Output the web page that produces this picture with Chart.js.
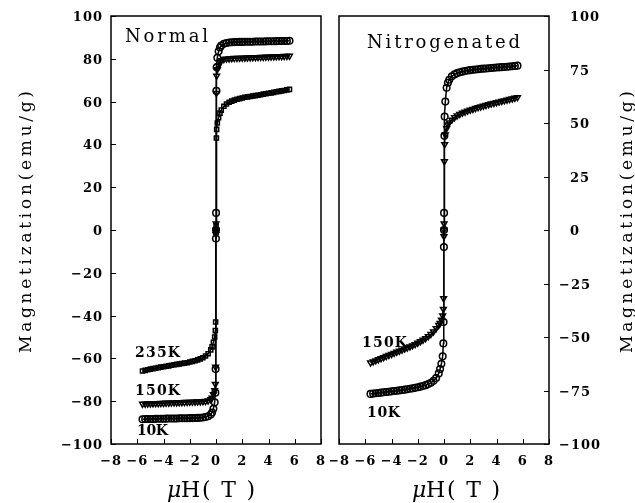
<!DOCTYPE html>
<html>
<head>
<meta charset="utf-8">
<script src="https://cdn.jsdelivr.net/npm/chart.js@4"></script>
<style>
  html, body { margin: 0; padding: 0; background: #fff; }
  #wrap { position: relative; width: 635px; height: 503px; }
  #leftPanel { position: absolute; left: 0; top: 0; }
  #rightPanel { position: absolute; left: 330px; top: 0; }
</style>
</head>
<body>
<div id="wrap">
  <canvas id="leftPanel" width="330" height="503"></canvas>
  <canvas id="rightPanel" width="305" height="503"></canvas>
</div>
<script>
// field sweep (T), same for every curve
const fieldT = [-5.6,-5.4,-5.2,-5.0,-4.8,-4.6,-4.4,-4.2,-4.0,-3.8,-3.6,-3.4,-3.2,-3.0,-2.8,-2.6,-2.4,-2.2,-2.0,-1.8,-1.6,-1.4,-1.2,-1.0,-0.8,-0.6,-0.4,-0.3,-0.2,-0.1,-0.05,-0.03,-0.005,
  0,
  0.005,0.03,0.05,0.1,0.2,0.3,0.4,0.6,0.8,1.0,1.2,1.4,1.6,1.8,2.0,2.2,2.4,2.6,2.8,3.0,3.2,3.4,3.6,3.8,4.0,4.2,4.4,4.6,4.8,5.0,5.2,5.4,5.6];

// Normal sample, emu/g
const normal10K = [-88.4,-88.35,-88.3,-88.3,-88.3,-88.25,-88.2,-88.2,-88.2,-88.15,-88.1,-88.1,-88.1,-88.05,-88.0,-88.0,-88.0,-87.95,-87.9,-87.9,-87.85,-87.8,-87.7,-87.6,-87.4,-87.0,-86.2,-85.3,-83.5,-80.5,-76,-65,-4,
  0,
  8,65,76,80.5,83.5,85.3,86.2,87.0,87.4,87.6,87.7,87.8,87.85,87.9,87.9,87.95,88.0,88.0,88.0,88.05,88.1,88.1,88.1,88.15,88.2,88.2,88.2,88.25,88.3,88.3,88.3,88.35,88.4];
const normal150K = [-81.3,-81.25,-81.2,-81.15,-81.1,-81.05,-81.0,-80.95,-80.9,-80.85,-80.8,-80.75,-80.7,-80.65,-80.6,-80.55,-80.5,-80.45,-80.4,-80.35,-80.3,-80.25,-80.2,-80.1,-80.0,-79.8,-79.2,-78.4,-76.8,-75,-72,-64,-2,
  0,
  3,64,72,75,76.8,78.4,79.2,79.8,80.0,80.1,80.2,80.25,80.3,80.35,80.4,80.45,80.5,80.55,80.6,80.65,80.7,80.75,80.8,80.85,80.9,80.95,81.0,81.05,81.1,81.15,81.2,81.25,81.3];
const normal235K = [-65.9,-65.6,-65.3,-65.0,-64.8,-64.6,-64.3,-64.1,-63.9,-63.7,-63.5,-63.2,-63.0,-62.8,-62.6,-62.4,-62.2,-62.0,-61.7,-61.4,-61.1,-60.7,-60.2,-59.7,-58.9,-57.8,-56.0,-54.6,-52.5,-50,-47,-43,-1,
  0,
  2,43,47,50,52.5,54.6,56.0,57.8,58.9,59.7,60.2,60.7,61.1,61.4,61.7,62.0,62.2,62.4,62.6,62.8,63.0,63.2,63.5,63.7,63.9,64.1,64.3,64.6,64.8,65.0,65.2,65.5,65.7];

// Nitrogenated sample, emu/g
const nitro10K = [-76.6,-76.45,-76.3,-76.15,-76.0,-75.85,-75.7,-75.55,-75.4,-75.25,-75.1,-74.95,-74.8,-74.6,-74.4,-74.2,-74.0,-73.75,-73.5,-73.2,-72.9,-72.5,-72.0,-71.4,-70.5,-69.2,-67.0,-65.0,-62.5,-59,-53,-43,-8,
  0,
  8,44,53,60,66.5,68.8,70.2,71.8,72.7,73.3,73.7,74.0,74.3,74.5,74.7,74.85,75.0,75.15,75.3,75.4,75.5,75.6,75.7,75.8,75.9,76.0,76.1,76.2,76.3,76.4,76.5,76.65,76.8];
const nitro150K = [-62.0,-61.5,-61.0,-60.5,-60.0,-59.5,-59.0,-58.5,-58.0,-57.5,-57.0,-56.5,-56.0,-55.5,-55.0,-54.5,-54.0,-53.4,-52.8,-52.1,-51.4,-50.6,-49.7,-48.7,-47.5,-46.0,-44.5,-43.5,-42.0,-40,-37,-32,-3,
  0,
  3,32,40,44.5,47.5,49.2,50.2,51.5,52.6,53.4,54.1,54.7,55.2,55.7,56.1,56.5,56.9,57.3,57.6,58.0,58.3,58.7,59.0,59.3,59.6,59.9,60.2,60.5,60.8,61.1,61.4,61.7,62.0];

const xTicks = [-8,-6,-4,-2,0,2,4,6,8];
const leftYTicks = [-100,-80,-60,-40,-20,0,20,40,60,80,100];
const rightYTicks = [-100,-75,-50,-25,0,25,50,75,100];

const SERIF = '"DejaVu Serif", "Liberation Serif", serif';

const pts = ys => fieldT.map((x, i) => ({ x: x, y: ys[i] }));
const minus = v => String(v).replace('-', '\u2212');

function curve(ys, style) {
    return {
        data: pts(ys),
        showLine: true,
        borderColor: '#000',
        borderWidth: 1.5,
        pointStyle: style,
        pointRotation: style === 'triangle' ? 180 : 0,
        pointRadius: style === 'rect' ? 2.9 : 3.3,
        pointBorderWidth: 1.5,
        pointBorderColor: '#000',
        pointBackgroundColor: 'rgba(255,255,255,0)'
    };
}

// draws text; if width is given the letter spacing is stretched to fill it
function text(ctx, str, x, y, font, spacing, align, width) {
    ctx.save();
    ctx.font = font;
    ctx.letterSpacing = '0px';
    let sp = spacing || 0;
    if (width) sp = (width - ctx.measureText(str).width) / Math.max(1, str.length - 1);
    ctx.letterSpacing = sp + 'px';
    ctx.textAlign = align || 'left';
    ctx.textBaseline = 'alphabetic';
    ctx.fillStyle = '#000';
    ctx.fillText(str, x, y);
    ctx.restore();
}

// frame, inward ticks, tick labels and annotations
function panelDecor(side, yTicks, notes) {
    return {
        id: 'decor',
        afterDatasetsDraw(chart) {
            const ctx = chart.ctx, a = chart.chartArea;
            const xs = chart.scales.x, ys = chart.scales.y;
            const off = chart.canvas.offsetLeft;
            ctx.save();
            ctx.strokeStyle = '#000';
            ctx.lineWidth = 1.5;
            ctx.strokeRect(a.left, a.top, a.right - a.left, a.bottom - a.top);
            ctx.lineWidth = 1;
            ctx.beginPath();
            xTicks.forEach(v => {
                const px = Math.round(xs.getPixelForValue(v)) + 0.5;
                ctx.moveTo(px, a.bottom); ctx.lineTo(px, a.bottom - 5);
            });
            yTicks.forEach(v => {
                const py = Math.round(ys.getPixelForValue(v)) + 0.5;
                if (side === 'left') { ctx.moveTo(a.left, py); ctx.lineTo(a.left + 5, py); }
                else { ctx.moveTo(a.right, py); ctx.lineTo(a.right - 5, py); }
            });
            ctx.stroke();
            ctx.restore();

            const tickFont = 'bold 13px ' + SERIF;
            xTicks.forEach(v => {
                text(ctx, minus(v), xs.getPixelForValue(v), a.bottom + 21, tickFont, 0.8, 'center');
            });
            yTicks.forEach(v => {
                const py = ys.getPixelForValue(v) + 5;
                if (side === 'left') text(ctx, minus(v), a.left - 8, py, tickFont, 1, 'right');
                else text(ctx, minus(v), a.right + (v < 0 ? 10 : 21), py, tickFont, 1, 'left');
            });

            notes.forEach(n => text(ctx, n.t, n.x - off, n.y, n.f, 0, 'left', n.w));

            // axis titles
            const cx = side === 'left' ? 25 : 626 - off;
            ctx.save();
            ctx.translate(cx, 222);
            ctx.rotate(-Math.PI / 2);
            text(ctx, 'Magnetization(emu/g)', -131, 6, '17px ' + SERIF, 0, 'left', 262);
            ctx.restore();
            const mx = (side === 'left' ? 167 : 412) - off;
            text(ctx, '\u03bc', mx, 497, 'italic 22px ' + SERIF, 0, 'left');
            text(ctx, 'H( T )', mx + 14, 497, '22px ' + SERIF, 0, 'left', 74);
        }
    };
}

function panelOptions(side, yStep, padding, yWidth) {
    return {
        responsive: false,
        animation: false,
        devicePixelRatio: 1,
        layout: { padding: padding },
        plugins: { legend: { display: false }, tooltip: { enabled: false } },
        scales: {
            x: {
                type: 'linear', min: -8, max: 8,
                ticks: { display: false, stepSize: 2 },
                grid: { display: false }, border: { display: false },
                afterFit: s => { s.height = 59; }
            },
            y: {
                position: side, min: -100, max: 100,
                ticks: { display: false, stepSize: yStep },
                grid: { display: false }, border: { display: false },
                afterFit: s => { s.width = yWidth; }
            }
        }
    };
}

const noteFont = 'bold 14px ' + SERIF;

new Chart(document.getElementById('leftPanel'), {
    type: 'scatter',
    data: { datasets: [curve(normal10K, 'circle'), curve(normal150K, 'triangle'), curve(normal235K, 'rect')] },
    options: panelOptions('left', 20, { left: 0, top: 16, right: 9, bottom: 0 }, 111),
    plugins: [panelDecor('left', leftYTicks, [
        { t: 'Normal', x: 125, y: 42, f: '18px ' + SERIF, w: 83 },
        { t: '235K', x: 135, y: 357, f: noteFont, w: 45 },
        { t: '150K', x: 135, y: 395, f: noteFont, w: 45 },
        { t: '10K', x: 137, y: 435, f: noteFont, w: 31 }
    ])]
});

new Chart(document.getElementById('rightPanel'), {
    type: 'scatter',
    data: { datasets: [curve(nitro10K, 'circle'), curve(nitro150K, 'triangle')] },
    options: panelOptions('right', 25, { left: 9, top: 16, right: 0, bottom: 0 }, 86),
    plugins: [panelDecor('right', rightYTicks, [
        { t: 'Nitrogenated', x: 367, y: 48, f: '18px ' + SERIF, w: 153 },
        { t: '150K', x: 362, y: 347, f: noteFont, w: 45 },
        { t: '10K', x: 367, y: 417, f: noteFont, w: 33 }
    ])]
});
</script>
</body>
</html>
